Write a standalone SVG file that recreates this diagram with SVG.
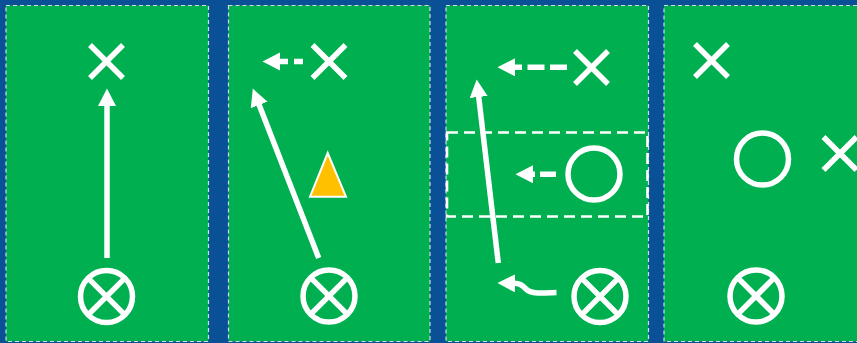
<svg xmlns="http://www.w3.org/2000/svg" width="857" height="343" viewBox="0 0 857 343">
<style>
.bg{fill:#0A5096}
.panel{fill:#00B050;stroke:#D0DCE0;stroke-width:1.2;stroke-dasharray:4 3}
.w{fill:none;stroke:#FFFFFF;stroke-width:5.5}
.arr{fill:none;stroke:#FFFFFF;stroke-width:5.5;marker-end:url(#ah)}
.zone{fill:none;stroke:#FFFFFF;stroke-width:2.6;stroke-dasharray:11 6}
.cone{fill:#FFC000;stroke:#FFFFFF;stroke-width:2}
</style>
<defs>
<marker id="ah" markerUnits="userSpaceOnUse" markerWidth="19" markerHeight="19" refX="1" refY="9" orient="auto">
<path d="M0,0 L17.5,9 L0,18 Z" fill="#FFFFFF"/>
</marker>
<g id="xmark"><line x1="-16.5" y1="-16.5" x2="16.5" y2="16.5" class="w"/><line x1="-16.5" y1="16.5" x2="16.5" y2="-16.5" class="w"/></g>
<g id="omark"><circle r="26" class="w"/></g>
<g id="oxmark"><circle r="26" class="w"/><line x1="-18.4" y1="-18.4" x2="18.4" y2="18.4" class="w"/><line x1="-18.4" y1="18.4" x2="18.4" y2="-18.4" class="w"/></g>
</defs>
<rect class="bg" x="0" y="0" width="857" height="343"/>
<g id="panels">
<rect id="panel1" class="panel" x="6" y="5.5" width="202.5" height="336"/>
<rect id="panel2" class="panel" x="228.5" y="5.5" width="201.5" height="336"/>
<rect id="panel3" class="panel" x="446" y="5.5" width="202.5" height="336"/>
<rect id="panel4" class="panel" x="664" y="5.5" width="210" height="336"/>
</g>
<rect id="zone3" class="zone" x="447" y="132.5" width="200.5" height="84"/>
<g id="p1-x"><use href="#xmark" x="106.5" y="61.5"/></g>
<g id="p1-ox"><use href="#oxmark" x="106.5" y="296.5"/></g>
<g id="p2-x"><use href="#xmark" x="329" y="61.5"/></g>
<g id="p2-cone"><polygon class="cone" points="327.7,153 310,196.7 346,196.7"/></g>
<g id="p2-ox"><use href="#oxmark" x="329" y="296"/></g>
<g id="p3-x"><use href="#xmark" x="591.5" y="67.5"/></g>
<g id="p3-o"><use href="#omark" x="594" y="174"/></g>
<g id="p3-ox"><use href="#oxmark" x="600" y="296.5"/></g>
<g id="p4-x1"><use href="#xmark" x="711.5" y="60.5"/></g>
<g id="p4-o"><use href="#omark" x="762.5" y="159"/></g>
<g id="p4-x2"><use href="#xmark" x="840" y="153.5"/></g>
<g id="p4-ox"><use href="#oxmark" x="756" y="296"/></g>
<g id="connectors">
<line class="arr" x1="107" y1="258" x2="107" y2="105"/>
<line class="arr" x1="318.7" y1="258" x2="258.8" y2="104"/>
<line class="arr" x1="303" y1="61.5" x2="279" y2="61.5" stroke-dasharray="9 6"/>
<line class="arr" x1="567" y1="67.3" x2="514" y2="67.3" stroke-dasharray="17 5.5"/>
<line class="arr" x1="556" y1="174.3" x2="532" y2="174.3" stroke-dasharray="16 5"/>
<line class="arr" x1="498.3" y1="263" x2="478.6" y2="96"/>
<path class="arr" d="M556.5,292.5 C540,293 531,294 526,289 C522,285 520,283.4 514,283.3"/>
</g>
</svg>
